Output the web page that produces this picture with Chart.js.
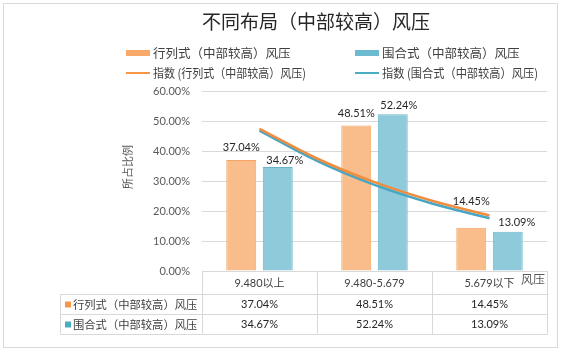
<!DOCTYPE html>
<html>
<head>
<meta charset="utf-8">
<script src="https://cdn.jsdelivr.net/npm/chart.js@4"></script>
<style>
  html, body { margin: 0; padding: 0; background: #fff; }
  canvas { display: block; }
</style>
</head>
<body>
<canvas id="chart" width="564" height="353"></canvas>
<script>
const categories = ["9.480以上", "9.480-5.679", "5.679以下"];
const seriesNames = ["行列式（中部较高）风压", "围合式（中部较高）风压"];
const rowValues = [37.04, 48.51, 14.45];
const ringValues = [34.67, 52.24, 13.09];
// exponential trendlines at half-category steps
const trendX = [0, 0.5, 1, 1.5, 2];
const rowTrend = [47.4, 37.5, 29.6, 23.4, 18.5];
const ringTrend = [46.8, 36.7, 28.7, 22.5, 17.6];

const LATIN = 'Lato, "Noto Sans CJK SC", sans-serif';
const CJK = '"Noto Sans CJK SC", sans-serif';
const ORANGE = "#F79646";
const BLUE = "#4BACC6";
const LINE_GRAY = "#D9D9D9";
const TEXT = "#404040";

// nudges of the value labels (dx, dy from bar top) as placed in the original
const labelNudge = [
  [[0, -12], [0, -12], [0, -26]],
  [[7, -7], [6, -9], [9, -9]],
];

const extras = {
  id: "extras",
  afterDraw(chart) {
    const ctx = chart.ctx;
    const area = chart.chartArea;
    const xs = chart.scales.x;
    ctx.save();

    // outer frame
    ctx.strokeStyle = LINE_GRAY;
    ctx.lineWidth = 1;
    ctx.strokeRect(3.5, 3.5, 554, 344);

    // title
    ctx.fillStyle = "#262626";
    ctx.font = '19px ' + CJK;
    ctx.textAlign = "center";
    ctx.textBaseline = "middle";
    ctx.fillText("不同布局（中部较高）风压", 316, 22);

    // legend (2 x 2)
    ctx.font = '12.5px ' + CJK;
    ctx.textAlign = "left";
    ctx.fillStyle = "#F8A96A";
    ctx.fillRect(126, 50, 24, 6);
    ctx.fillStyle = "#6DBAD0";
    ctx.fillRect(355, 50, 24, 6);
    ctx.lineWidth = 2;
    ctx.strokeStyle = ORANGE;
    ctx.beginPath(); ctx.moveTo(126, 73); ctx.lineTo(150, 73); ctx.stroke();
    ctx.strokeStyle = BLUE;
    ctx.beginPath(); ctx.moveTo(355, 73); ctx.lineTo(379, 73); ctx.stroke();
    ctx.fillStyle = TEXT;
    ctx.fillText(seriesNames[0], 153, 53);
    ctx.fillText(seriesNames[1], 382, 53);
    ctx.fillText("指数 (" + seriesNames[0] + ")", 153, 73, 153);
    ctx.fillText("指数 (" + seriesNames[1] + ")", 382, 73, 156);

    // y axis title
    ctx.save();
    ctx.translate(128, 167);
    ctx.rotate(-Math.PI / 2);
    ctx.font = '11px ' + CJK;
    ctx.fillStyle = "#595959";
    ctx.textAlign = "center";
    ctx.fillText("所占比例", 0, 0);
    ctx.restore();

    // data table, columns follow the x scale
    const edges = [];
    for (let c = 0; c <= categories.length; c++) edges.push(Math.round(xs.getPixelForValue(c - 0.5)) + 0.5);
    const rows = [area.bottom, 294, 314, 334];
    const tableLeft = 60.5;
    ctx.strokeStyle = LINE_GRAY;
    ctx.lineWidth = 1;
    ctx.beginPath();
    ctx.moveTo(edges[0], rows[0] + 0.5); ctx.lineTo(edges[edges.length - 1], rows[0] + 0.5);
    for (let r = 1; r < rows.length; r++) {
      ctx.moveTo(tableLeft, rows[r] + 0.5); ctx.lineTo(edges[edges.length - 1], rows[r] + 0.5);
    }
    ctx.moveTo(tableLeft, rows[1]); ctx.lineTo(tableLeft, rows[3] + 0.5);
    edges.forEach((x) => { ctx.moveTo(x, rows[0]); ctx.lineTo(x, rows[3] + 0.5); });
    ctx.stroke();

    const series = [rowValues, ringValues];
    const keys = [ORANGE, BLUE];
    series.forEach((vals, s) => {
      const yMid = (rows[s + 1] + rows[s + 2]) / 2 + 0.5;
      ctx.fillStyle = keys[s];
      ctx.fillRect(65, yMid - 3, 6, 6);
      ctx.fillStyle = TEXT;
      ctx.font = '11.3px ' + CJK;
      ctx.textAlign = "left";
      ctx.fillText(seriesNames[s], 73, yMid, 126);
      ctx.font = '11px ' + LATIN;
      ctx.textAlign = "center";
      ctx.fillStyle = "#262626";
      vals.forEach((v, i) => {
        ctx.fillText(v.toFixed(2) + "%", xs.getPixelForValue(i), yMid);
      });
    });

    // x axis title
    ctx.fillStyle = "#595959";
    ctx.font = '12px ' + CJK;
    ctx.textAlign = "center";
    ctx.fillText("风压", 533, 279);

    ctx.restore();
  },
  afterDatasetsDraw(chart) {
    const ctx = chart.ctx;
    ctx.save();
    ctx.font = '11px ' + LATIN;
    ctx.fillStyle = "#262626";
    ctx.textAlign = "center";
    ctx.textBaseline = "middle";
    [0, 1].forEach((d) => {
      const meta = chart.getDatasetMeta(d);
      meta.data.forEach((bar, i) => {
        const v = chart.data.datasets[d].data[i].y;
        const n = labelNudge[d][i];
        ctx.fillText(v.toFixed(2) + "%", bar.x + n[0], bar.y + n[1]);
      });
    });
    ctx.restore();
  },
};

const barOpts = { borderWidth: 1, categoryPercentage: 0.635, barPercentage: 0.82, order: 2 };
const lineOpts = { type: "line", borderWidth: 2.5, pointRadius: 0, cubicInterpolationMode: "monotone", fill: false };

new Chart(document.getElementById("chart").getContext("2d"), {
  type: "bar",
  data: {
    datasets: [
      Object.assign({
        label: seriesNames[0],
        data: rowValues.map((v, i) => ({ x: i, y: v })),
        backgroundColor: "#F9BD8B",
        borderColor: "#F6A465",
      }, barOpts),
      Object.assign({
        label: seriesNames[1],
        data: ringValues.map((v, i) => ({ x: i, y: v })),
        backgroundColor: "#8FCADB",
        borderColor: "#67B6CD",
      }, barOpts),
      Object.assign({
        label: "指数 (" + seriesNames[0] + ")",
        data: trendX.map((x, i) => ({ x: x, y: rowTrend[i] })),
        borderColor: "#F08C3E",
        order: 0,
      }, lineOpts),
      Object.assign({
        label: "指数 (" + seriesNames[1] + ")",
        data: trendX.map((x, i) => ({ x: x, y: ringTrend[i] })),
        borderColor: "#45A7C4",
        order: 1,
      }, lineOpts),
    ],
  },
  options: {
    responsive: false,
    animation: false,
    devicePixelRatio: 1,
    layout: { padding: { left: 0, right: 17, top: 91, bottom: 0 } },
    plugins: {
      legend: { display: false },
      title: { display: false },
      tooltip: { enabled: false },
    },
    scales: {
      x: {
        type: "linear",
        min: -0.5,
        max: 2.5,
        offset: false,
        grid: { display: false, drawTicks: false },
        border: { display: false },
        afterBuildTicks: (scale) => { scale.ticks = categories.map((c, i) => ({ value: i })); },
        ticks: {
          font: { size: 11, family: LATIN },
          color: TEXT,
          padding: 6,
          maxRotation: 0,
          autoSkip: false,
          callback: (v) => categories[v],
        },
        afterFit: (scale) => { scale.height = 82; },
      },
      y: {
        min: 0,
        max: 60,
        grid: { color: LINE_GRAY, drawTicks: false },
        border: { display: false },
        ticks: {
          stepSize: 10,
          padding: 12,
          color: "#595959",
          font: { size: 11, family: LATIN },
          callback: (v) => v.toFixed(2) + "%",
        },
        afterFit: (scale) => { scale.width = 202; },
      },
    },
  },
  plugins: [extras],
});
</script>
</body>
</html>
